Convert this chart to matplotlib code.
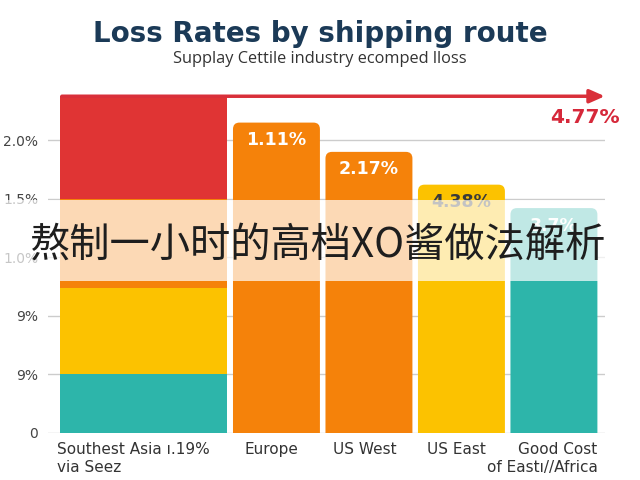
import matplotlib.pyplot as plt
from matplotlib.patches import Rectangle, FancyBboxPatch
from matplotlib.transforms import blended_transform_factory

plt.rcParams['font.family'] = ['DejaVu Sans']

# first bar is a stack of four pieces, the other routes are single bars
stack_parts = [0.5, 0.74, 0.76, 0.875]
stack_colors = ["#2DB5AA", "#FCC200", "#F5820A", "#E03434"]

routes = ["Europe", "US West", "US East", "Good Cost\nof Eastı//Africa"]
route_heights = [2.65, 2.40, 2.12, 1.92]
route_colors = ["#F5820A", "#F5820A", "#FCC200", "#2DB5AA"]
route_labels = ["1.11%", "2.17%", "4.38%", "3.7%"]
label_colors = ["white", "white", "#3A3A3A", "white"]

first_label = "Southest Asia ı.19%\nvia Seez"
arrow_label = "4.77%"

ytick_pos = [0, 0.5, 1.0, 1.5, 2.0, 2.5]
ytick_text = ["0", "9%", "9%", "1.0%", "1.5%", "2.0%"]

banner = "熬制一小时的高档XO酱做法解析"

fig = plt.figure(figsize=(6.4, 4.8), dpi=100)
ax = fig.add_axes([0.075, 0.098, 0.87, 0.732])

# stacked first bar
bottom = 0
for h, c in zip(stack_parts, stack_colors):
    ax.bar(-0.44, h, width=1.81, bottom=bottom, color=c, zorder=2)
    bottom += h

# other bars with rounded tops (bottom corners hidden below the axis)
pos = [1, 2, 3, 4]
w = 0.94
for x, h, c in zip(pos, route_heights, route_colors):
    ax.add_patch(FancyBboxPatch((x - w / 2, -0.3), w, h + 0.3,
                                boxstyle="round,pad=0,rounding_size=0.07",
                                mutation_aspect=0.8, facecolor=c,
                                edgecolor="none", zorder=2))
for x, h, t, c in zip(pos, route_heights, route_labels, label_colors):
    ax.text(x, h - 0.15, t, ha="center", va="center", color=c,
            fontsize=12.5, fontweight="bold", zorder=3)

# arrow along the top
ax.annotate("", xy=(4.58, bottom), xytext=(-1.35, bottom),
            arrowprops=dict(arrowstyle="-|>,head_length=0.9,head_width=0.4",
                            color="#D9303A", lw=2.5),
            annotation_clip=False, zorder=4)
ax.text(4.34, 2.69, arrow_label, ha="center", va="center", color="#D6283A",
        fontsize=14.5, fontweight="bold")

ax.set_xlim(-1.47, 4.55)
ax.set_ylim(0, 3.0)
ax.set_yticks(ytick_pos)
ax.set_yticklabels(ytick_text, fontsize=10, color="#444444")
ax.set_xticks([])
ax.tick_params(axis="y", length=0, pad=7)
ax.grid(axis="y", color="#CCCCCC", lw=1, zorder=0)
for s in ax.spines.values():
    s.set_visible(False)

tr = blended_transform_factory(ax.transData, ax.transAxes)
ax.text(-1.375, -0.025, first_label, transform=tr, ha="left", va="top",
        fontsize=11, color="#333333", linespacing=1.25)
for x, r in zip(pos[:3], routes[:3]):
    ax.text(x - 0.05, -0.025, r, transform=tr, ha="center", va="top",
            fontsize=11, color="#333333")
ax.text(4.47, -0.025, routes[3], transform=tr, ha="right", va="top",
        fontsize=11, color="#333333", linespacing=1.25, multialignment="right")

fig.text(0.5, 0.93, "Loss Rates by shipping route", ha="center", va="center",
         fontsize=20, fontweight="bold", color="#1B3A57")
fig.text(0.5, 0.878, "Supplay Cettile industry ecomped lloss", ha="center",
         va="center", fontsize=11.8, color="#333333",
         family=["Open Sans", "DejaVu Sans"])

# translucent banner with the Chinese caption
fig.add_artist(Rectangle((0, 0.415), 1, 0.168, transform=fig.transFigure,
                         facecolor="white", alpha=0.7, edgecolor="none",
                         zorder=10))
fig.text(0.497, 0.49, banner, ha="center", va="center", fontsize=29,
         color="#1E1E1E", family=["Noto Sans CJK SC", "DejaVu Sans"], zorder=11)

fig.savefig("out.png", dpi=100)
